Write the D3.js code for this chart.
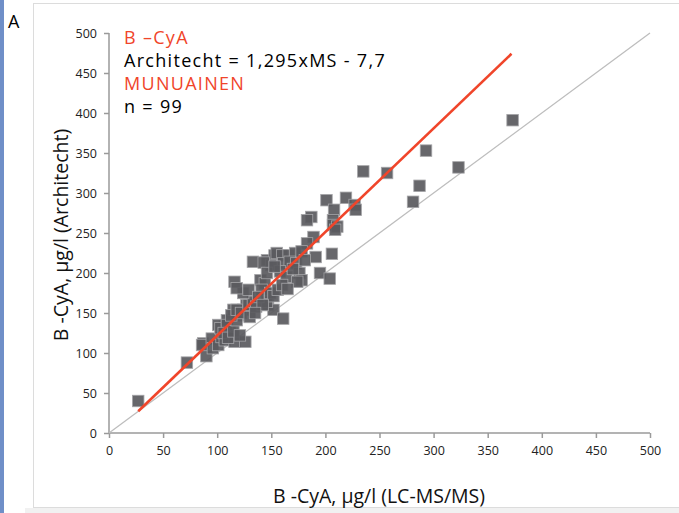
<!DOCTYPE html>
<html>
<head>
<meta charset="utf-8">
<title>B-CyA Architect vs LC-MS/MS</title>
<script src="https://cdn.jsdelivr.net/npm/d3@7"></script>
<style>
body { margin: 0; background: #fff; }
text { font-family: "Open Sans", sans-serif; }
</style>
</head>
<body>
<svg id="chart" width="679" height="513"></svg>
<script>
// values: LC-MS/MS (x) vs Architect (y), ug/l
var msValues = [27, 72, 90, 87, 86, 95, 96, 101, 104, 107, 112, 116, 126, 107, 101, 103, 109, 109, 106, 110,
  115, 121, 119, 124, 127, 115, 118, 113, 118, 122, 129, 130, 133, 136, 147, 152, 146, 140, 144, 141,
  149, 152, 156, 124, 129, 116, 118, 133, 146, 153, 150, 161, 373, 293, 323, 287, 281, 235, 257, 201,
  219, 227, 228, 208, 187, 183, 207, 207, 211, 209, 189, 183, 206, 191, 195, 204, 143, 155, 160, 166,
  172, 178, 161, 167, 173, 181, 146, 158, 164, 176, 178, 174, 153, 138, 142, 160, 165, 170, 135];
var archValues = [40, 88, 96, 112, 110, 118, 106, 110, 120, 116, 127, 114, 114, 133, 135, 131, 141, 135, 125, 119,
  127, 122, 147, 154, 160, 154, 141, 147, 154, 150, 160, 145, 164, 158, 160, 154, 164, 191, 187, 179,
  175, 171, 179, 175, 179, 189, 181, 214, 216, 222, 210, 143, 391, 353, 332, 309, 289, 327, 325, 291,
  294, 285, 279, 279, 270, 266, 266, 260, 258, 254, 245, 237, 224, 220, 200, 193, 213, 225, 222, 222,
  225, 227, 212, 214, 212, 216, 200, 202, 195, 200, 191, 189, 208, 170, 160, 185, 180, 205, 150];
var tickValues = [0, 50, 100, 150, 200, 250, 300, 350, 400, 450, 500];
var slope = 1.295, intercept = -7.7;
var fitRange = [27, 372];
var legendLines = ["B \u2013CyA", "Architecht = 1,295xMS - 7,7", "MUNUAINEN", "n = 99"];

var svg = d3.select("#chart");
var red = "#f0452a";

// page decoration
svg.append("rect").attr("x", 0).attr("y", 0).attr("width", 4).attr("height", 513).attr("fill", "#6f8fc8");
svg.append("rect").attr("x", 33.5).attr("y", 3.5).attr("width", 660).attr("height", 504)
  .attr("fill", "#fff").attr("stroke", "#dcdcdc");
svg.append("rect").attr("x", 25).attr("y", 508).attr("width", 660).attr("height", 5).attr("fill", "#f1f1f1");
svg.append("text").attr("x", 8).attr("y", 28).attr("font-family", "Liberation Sans, Arial")
  .attr("font-size", 18).attr("fill", "#000").text("A");

var x = d3.scaleLinear().domain([0, 500]).range([109, 650]);
var y = d3.scaleLinear().domain([0, 500]).range([433, 33]);

var xAxis = svg.append("g").attr("transform", "translate(0,433)")
  .call(d3.axisBottom(x).tickValues(tickValues).tickSize(5).tickPadding(8));
var yAxis = svg.append("g").attr("transform", "translate(109,0)")
  .call(d3.axisLeft(y).tickValues(tickValues).tickSize(5).tickPadding(7));
[xAxis, yAxis].forEach(function (a) {
  a.selectAll("path,line").attr("stroke", "#9a9a9a").attr("stroke-width", 1.5);
  a.selectAll("text").attr("font-size", 12.5).attr("fill", "#222");
});
xAxis.select(".domain").attr("d", "M109,0H650");
yAxis.select(".domain").attr("d", "M0,433V33");

// identity line
svg.append("line")
  .attr("x1", x(0)).attr("y1", y(0)).attr("x2", x(500)).attr("y2", y(500))
  .attr("stroke", "#bdbdbd").attr("stroke-width", 1.3);

// points
var pts = msValues.map(function (d, i) { return [d, archValues[i]]; });
var s = 11.5;
svg.append("g").selectAll("rect").data(pts).enter().append("rect")
  .attr("x", function (d) { return x(d[0]) - s / 2; })
  .attr("y", function (d) { return y(d[1]) - s / 2; })
  .attr("width", s).attr("height", s)
  .attr("fill", "#5a5a5e").attr("fill-opacity", 0.92)
  .attr("stroke", "#a5a5a8").attr("stroke-width", 0.8);

// regression line
svg.append("line")
  .attr("x1", x(fitRange[0])).attr("y1", y(slope * fitRange[0] + intercept))
  .attr("x2", x(fitRange[1])).attr("y2", y(slope * fitRange[1] + intercept))
  .attr("stroke", red).attr("stroke-width", 2.6);

// legend text
svg.append("g").selectAll("text").data(legendLines).enter().append("text")
  .attr("x", 124).attr("y", function (d, i) { return 44 + i * 23; })
  .attr("font-family", "Liberation Sans, Arial").attr("font-size", 18)
  .attr("letter-spacing", 1.3)
  .attr("fill", function (d, i) { return i % 2 === 0 ? red : "#000"; })
  .text(function (d) { return d; });

// axis titles
svg.append("text").attr("x", 379).attr("y", 503).attr("text-anchor", "middle")
  .attr("font-size", 19.5).attr("fill", "#111").text("B -CyA, \u00b5g/l (LC-MS/MS)");
svg.append("text").attr("transform", "translate(68,235) rotate(-90)").attr("text-anchor", "middle")
  .attr("font-size", 19.5).attr("fill", "#111").text("B -CyA, \u00b5g/l (Architecht)");
</script>
</body>
</html>
